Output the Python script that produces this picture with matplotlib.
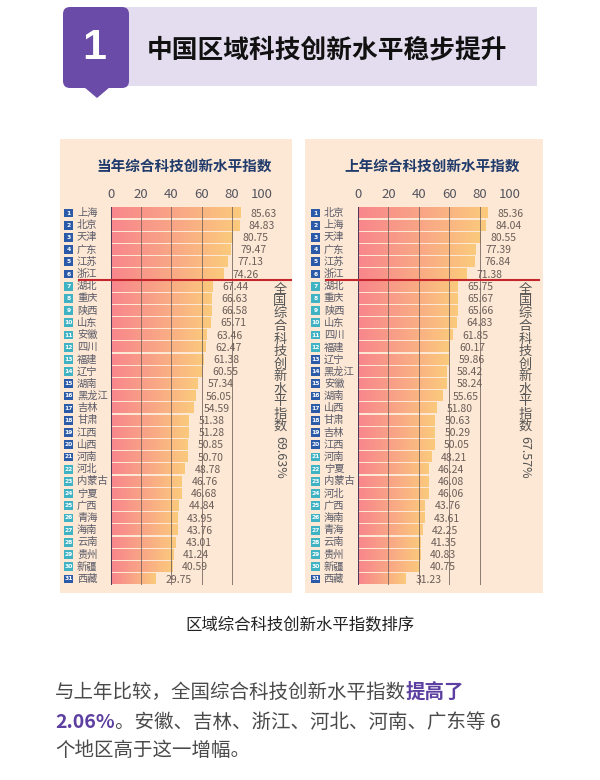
import numpy as np
import matplotlib.pyplot as plt
from matplotlib.colors import LinearSegmentedColormap
from matplotlib.patches import Rectangle, FancyBboxPatch, Polygon

plt.rcParams['font.family'] = ['Noto Sans CJK SC', 'DejaVu Sans']

W, H = 600, 780

# 当年 (current year) ranking
cur_regions = ['上海', '北京', '天津', '广东', '江苏', '浙江', '湖北', '重庆', '陕西', '山东',
               '安徽', '四川', '福建', '辽宁', '湖南', '黑龙江', '吉林', '甘肃', '江西', '山西',
               '河南', '河北', '内蒙古', '宁夏', '广西', '青海', '海南', '云南', '贵州', '新疆', '西藏']
cur_values = [85.63, 84.83, 80.75, 79.47, 77.13, 74.26, 67.44, 66.63, 66.58, 65.71,
              63.46, 62.47, 61.38, 60.55, 57.34, 56.05, 54.59, 51.38, 51.28, 50.85,
              50.70, 48.78, 46.76, 46.68, 44.84, 43.95, 43.76, 43.01, 41.24, 40.59, 29.75]
cur_national = '69.63%'

# 上年 (previous year) ranking
prev_regions = ['北京', '上海', '天津', '广东', '江苏', '浙江', '湖北', '重庆', '陕西', '山东',
                '四川', '福建', '辽宁', '黑龙江', '安徽', '湖南', '山西', '甘肃', '吉林', '江西',
                '河南', '宁夏', '内蒙古', '河北', '广西', '海南', '青海', '云南', '贵州', '新疆', '西藏']
prev_values = [85.36, 84.04, 80.55, 77.39, 76.84, 71.38, 65.75, 65.67, 65.66, 64.83,
               61.85, 60.17, 59.86, 58.42, 58.24, 55.65, 51.80, 50.63, 50.29, 50.05,
               48.21, 46.24, 46.08, 46.06, 43.76, 43.61, 42.25, 41.35, 40.83, 40.75, 31.23]
prev_national = '67.57%'

xticks = [0, 20, 40, 60, 80, 100]
tier_bounds = [70, 60, 50, 40]
top_n = 6

BEIGE = '#fce8d4'
NAVY = '#1f3a6b'
GREY = '#4a4a4a'
PURPLE = '#5c3fa0'
BLUE = '#2a5aa8'
TEAL = '#3fb2c4'

bar_cmap = LinearSegmentedColormap.from_list('bar', ['#f8868c', '#f9a686', '#fbca7c'])

fig = plt.figure(figsize=(W / 100, H / 100), dpi=100)
fig.patch.set_facecolor('white')

# full-figure axes in pixel coordinates for decoration
bg = fig.add_axes([0, 0, 1, 1])
bg.set_xlim(0, W)
bg.set_ylim(H, 0)
bg.axis('off')

# header
bg.add_patch(Rectangle((120, 7), 417, 79, color='#e4ddef', lw=0))
bg.add_patch(FancyBboxPatch((67, 11), 58, 73, boxstyle='round,pad=4,rounding_size=7',
                            color='#6a4ca8', lw=0))
bg.add_patch(Polygon([(84, 87), (110, 87), (97, 98)], closed=True, color='#6a4ca8', lw=0))
bg.text(94, 48, '1', color='white', fontsize=31, fontweight='bold',
        family='Liberation Sans', ha='center', va='center')
bg.text(147, 50, '中国区域科技创新水平稳步提升', color='#111111', fontsize=18.5,
        fontweight='bold', ha='left', va='center')

# panel backgrounds
bg.add_patch(Rectangle((60, 139), 232, 454, color=BEIGE, lw=0))
bg.add_patch(Rectangle((305, 139), 238, 454, color=BEIGE, lw=0))


def badge_color(v):
    tier = sum(v < b for b in tier_bounds)
    return BLUE if tier % 2 == 0 else TEAL


def draw_panel(x0, x1, title, regions, values, national, vx):
    ax = fig.add_axes([x0 / W, 1 - 585 / H, (x1 - x0) / W, (585 - 207) / H])
    ax.set_facecolor('none')
    ax.axis('off')
    grad = np.linspace(0, 1, 256).reshape(1, -1)
    for i, v in enumerate(values):
        ax.imshow(grad, extent=(0, v, i + 0.43, i - 0.43), cmap=bar_cmap,
                  aspect='auto', interpolation='bicubic', zorder=1)
        ax.text(v + 6.5, i + 0.05, f'{v:.2f}', ha='left', va='center',
                fontsize=7.5, color='#6b5d58', zorder=3)
        ax.text(-22.5, i, regions[i], ha='left', va='center', fontsize=7.4,
                color='#5a5a68', clip_on=False)
        ax.add_patch(Rectangle((-31, i - 0.36), 6, 0.72, color=badge_color(v),
                               lw=0, clip_on=False))
        ax.text(-28, i, str(i + 1), ha='center', va='center', fontsize=4.3,
                color='white', fontweight='bold', family='DejaVu Sans', clip_on=False)
    for t in xticks:
        if t == 0:
            ax.axvline(t, color='#3b3350', lw=1.3, zorder=2)
        else:
            ax.axvline(t, color='#6e5f58', lw=0.7, alpha=0.8, zorder=2)
        ax.text(t, -1.5, str(t), ha='center', va='center', fontsize=9.5,
                color='#555560', clip_on=False)
    ax.plot([-21, 119], [top_n - 0.5, top_n - 0.5], color='#c4262c', lw=1.5,
            clip_on=False, zorder=4)
    ax.set_xlim(0, 100)
    ax.set_ylim(len(values) - 0.5, -0.5)

    bg.text((x0 + x1) / 2 - 2, 166, title, color=NAVY, fontsize=10.5,
            fontweight='bold', ha='center', va='center')
    for k, ch in enumerate('全国综合科技创新水平指数'):
        bg.text(vx, 289 + 12.5 * k, ch, ha='center', va='center', fontsize=9.5,
                color='#555555')
    bg.text(vx, 457, national, rotation=-90, ha='center', va='center',
            fontsize=9, color='#555555')


draw_panel(111, 262, '当年综合科技创新水平指数', cur_regions, cur_values, cur_national, 280)
draw_panel(358, 510, '上年综合科技创新水平指数', prev_regions, prev_values, prev_national, 525)

bg.text(300, 625, '区域综合科技创新水平指数排序', color='#222222', fontsize=11.8,
        ha='center', va='center')

# body text with highlighted runs
fs = 14
t1 = bg.text(55, 692, '与上年比较，全国综合科技创新水平指数', color=GREY, fontsize=fs,
             ha='left', va='center')
bg.annotate('提高了', xy=(1, 0.5), xycoords=t1, color=PURPLE, fontsize=fs,
            fontweight='bold', ha='left', va='center')
t2 = bg.text(55, 722, '2.06%', color=PURPLE, fontsize=fs, fontweight='bold',
             ha='left', va='center')
bg.annotate('。安徽、吉林、浙江、河北、河南、广东等 6', xy=(1, 0.5), xycoords=t2,
            color=GREY, fontsize=fs, ha='left', va='center')
bg.text(55, 750, '个地区高于这一增幅。', color=GREY, fontsize=fs, ha='left', va='center')

fig.savefig('out.png', dpi=100, facecolor='white')
